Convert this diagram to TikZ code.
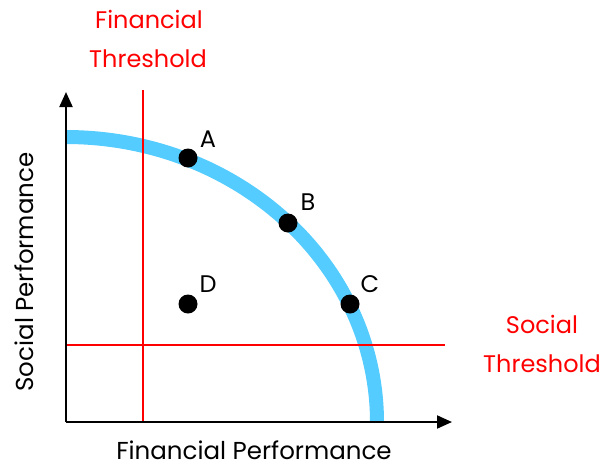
\documentclass[tikz,border=0pt]{standalone}
\usepackage{fontspec}
\setmainfont{Poppins}
\usetikzlibrary{arrows.meta}
\definecolor{curveblue}{RGB}{85,204,255}
\tikzset{
  axis/.style={line width=2pt,-{Triangle[width=13pt,length=15pt]}},
  redline/.style={line width=1.8pt,red},
  frontier/.style={line width=14pt,curveblue},
  dot/.style={circle,fill=black,inner sep=0pt,minimum size=19pt},
  ptlabel/.style={font=\fontsize{24}{28}\selectfont,anchor=base},
  redlabel/.style={font=\fontsize{24}{28}\selectfont,text=red,anchor=base},
  axlabel/.style={font=\fontsize{24.5}{28}\selectfont,anchor=base},
}
\begin{document}
\begin{tikzpicture}[x=1pt,y=-1pt]
\useasboundingbox (0,0) rectangle (602,469);
% frontier
\draw[frontier] plot[domain=0:90,samples=120,smooth] ({66+311*cos(\x)},{422-285*sin(\x)});
% thresholds
\coordinate (ft1) at (143,90);
\coordinate (ft2) at (143,422);
\coordinate (st1) at (66,345);
\coordinate (st2) at (445,345);
\draw[redline] (ft1) -- (ft2);
\draw[redline] (st1) -- (st2);
% axes
\coordinate (o) at (66,422);
\coordinate (ytip) at (66,92);
\coordinate (xtip) at (452,422);
\draw[axis] (o) -- (ytip);
\draw[axis] (o) -- (xtip);
% points
\node[dot] (A) at (188,158) {};
\node[dot] (B) at (288,223) {};
\node[dot] (C) at (350,304) {};
\node[dot] (D) at (188,304) {};
\node[ptlabel] (la) at (208,147) {A};
\node[ptlabel] (lb) at (308,210) {B};
\node[ptlabel] (lc) at (370,292) {C};
\node[ptlabel] (ld) at (208,292) {D};
% labels
\node[redlabel] (ft) at (149,28) {Financial};
\node[redlabel] (ft2l) at (148,67) {Threshold};
\node[redlabel] (st) at (542,333) {Social};
\node[redlabel] (st2l) at (542,372) {Threshold};
\node[axlabel] (xl) at (254,459) {Financial Performance};
\node[axlabel,rotate=90] (yl) at (33,272) {Social Performance};
\end{tikzpicture}
\end{document}
